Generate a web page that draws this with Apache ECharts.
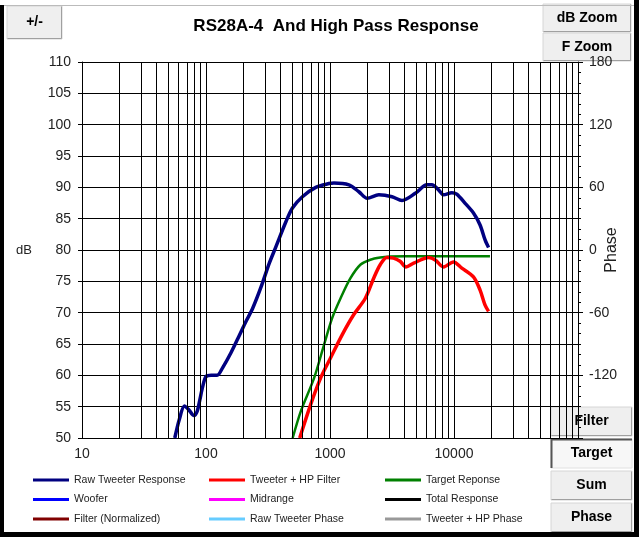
<!DOCTYPE html>
<html><head><meta charset="utf-8">
<script src="https://cdn.jsdelivr.net/npm/echarts@6/dist/echarts.min.js"></script>
<style>html,body{margin:0;padding:0;background:#fff}#c{width:639px;height:537px}</style>
</head><body><div id="c"></div>
<script>
// ---- data ----
const chartTitle = 'RS28A-4  And High Pass Response';
const freqDecades = [10, 100, 1000, 10000];
const freqMin = 10, freqMax = 100000;
const dbMin = 50, dbMax = 110, dbStep = 5;
const phaseMin = -180, phaseMax = 180, phaseStep = 60;

const rawTweeter = [
  [56,50],[61,53],[67,55.1],[72,54.6],[80,53.6],[85,54.3],[89,56],[94,58.2],[100,59.8],
  [110,60],[123,60],[136,61.2],[159,63.6],[186,66.4],[210,68.6],[238,70.7],[278,74.1],
  [324,77.9],[366,80.5],[441,84.5],[498,86.7],[599,88.5],[768,90],[981,90.6],[1077,90.7],
  [1421,90.4],[1710,89.3],[1995,88.25],[2477,88.8],[3165,88.5],[3808,87.9],[4879,89.05],
  [6049,90.4],[6633,90.4],[7510,89.6],[8240,88.8],[9600,89.15],[10520,88.9],[12300,87.45],
  [14350,85.9],[16230,84.0],[17810,81.6],[19000,80.4]
];
const tweeterHP = [
  [570,50],[700,55.4],[841,59.6],[1012,62.8],[1256,66.5],[1556,69.7],[1928,72.3],[2250,75.5],
  [2540,77.65],[2874,78.8],[3252,78.7],[3673,78.2],[4100,77.3],[4730,77.9],[6240,78.8],
  [7060,78.4],[8240,77.3],[9910,78.1],[11560,77.1],[14350,75.7],[16230,73.6],[17810,71.2],[19000,70.2]
];
const targetResp = [
  [500,50],[582,54.3],[745,59.6],[896,64.9],[1044,69.2],[1217,72.3],[1462,75.5],[1757,77.65],
  [2114,78.45],[2540,78.8],[3054,78.95],[4000,79],[10000,79],[19500,79]
];
const legendCol1 = ['Raw Tweeter Response','Woofer','Filter (Normalized)'];
const legendCol2 = ['Tweeter + HP Filter','Midrange','Raw Tweeter Phase'];
const legendCol3 = ['Target Reponse','Total Response','Tweeter + HP Phase'];
const seriesColors = {
  'Raw Tweeter Response':'#000080','Tweeter + HP Filter':'#ff0000','Target Reponse':'#008000',
  'Woofer':'#0000ff','Midrange':'#ff00ff','Total Response':'#000000',
  'Filter (Normalized)':'#800000','Raw Tweeter Phase':'#66ccff','Tweeter + HP Phase':'#999999'
};
const buttonLabels = ['+/-','dB Zoom','F Zoom','Filter','Target','Sum','Phase'];

// ---- build ----
const FONT = 'Liberation Sans, Arial, sans-serif';
const gridFreqs = [];
freqDecades.forEach(d => { for (let k = 1; k <= 9; k++) gridFreqs.push(k * d); });
gridFreqs.push(freqMax);

function button(x, y, w, h, label, pressed) {
  const children = [
    {type:'rect', shape:{x:x, y:y, width:w, height:h}, style:{fill: pressed ? '#f7f7f7' : '#efefef', stroke: pressed ? '#e0e0e0' : '#d6d6d6', lineWidth:1}},
  ];
  if (pressed) {
    children.push({type:'polyline', shape:{points:[[x+0.5,y+h],[x+0.5,y+0.5],[x+w,y+0.5]]}, style:{stroke:'#555', lineWidth:2, fill:null}});
  } else {
    children.push({type:'polyline', shape:{points:[[x+0.5,y+h-0.5],[x+w-0.5,y+h-0.5],[x+w-0.5,y+0.5]]}, style:{stroke:'#a0a0a0', lineWidth:1, fill:null}});
  }
  children.push({type:'text', style:{x:x+w/2, y:y+h/2, text:label, align:'center', verticalAlign:'middle', font:'bold 14px ' + FONT, fill:'#000'}});
  return {type:'group', z:100, children};
}

const lineSeries = [];
lineSeries.push({
  name:'__grid', type:'line', data:[], z:1, silent:true,
  markLine:{silent:true, symbol:['none','none'], label:{show:false}, animation:false,
    lineStyle:{color:'#000', width:1, type:'solid'}, emphasis:{disabled:true},
    data: gridFreqs.map(f => ({xAxis:f}))}
});
['Woofer','Midrange','Total Response','Filter (Normalized)'].forEach(n => {
  lineSeries.push({name:n, type:'line', data:[], color:seriesColors[n]});
});
['Raw Tweeter Phase','Tweeter + HP Phase'].forEach(n => {
  lineSeries.push({name:n, type:'line', data:[], yAxisIndex:1, color:seriesColors[n]});
});
lineSeries.push({name:'Target Reponse', type:'line', data:targetResp, z:3, smooth:0.3, showSymbol:false,
  color:seriesColors['Target Reponse'], lineStyle:{width:2.5}});
lineSeries.push({name:'Tweeter + HP Filter', type:'line', data:tweeterHP, z:4, smooth:0.3, showSymbol:false,
  color:seriesColors['Tweeter + HP Filter'], lineStyle:{width:3.5}});
lineSeries.push({name:'Raw Tweeter Response', type:'line', data:rawTweeter, z:4, smooth:0.3, showSymbol:false,
  color:seriesColors['Raw Tweeter Response'], lineStyle:{width:3.5}});

function legend(names, left) {
  return {data:names, orient:'vertical', left:left, top:474, padding:0, itemWidth:36, itemHeight:3, itemGap:7.5,
    icon:'rect', selectedMode:false, textStyle:{fontSize:10.5, lineHeight:12, color:'#222', fontFamily:FONT}};
}

const option = {
  animation:false,
  backgroundColor:'#fff',
  title:{text:chartTitle, left:331, top:13, textAlign:'center',
    textStyle:{fontSize:17, fontWeight:'bold', color:'#000', fontFamily:FONT}},
  grid:{left:82, right:61, top:62, bottom:99, containLabel:false, outerBoundsMode:'none'},
  legend:[legend(legendCol1, 33), legend(legendCol2, 209), legend(legendCol3, 385)],
  xAxis:{type:'log', logBase:10, min:freqMin, max:freqMax,
    axisLine:{show:true, lineStyle:{color:'#000'}}, axisTick:{show:false},
    splitLine:{show:false},
    axisLabel:{color:'#222', fontSize:14, margin:9, fontFamily:FONT,
      formatter: v => (v >= freqMax ? '' : String(Math.round(v)))}},
  yAxis:[
    {type:'value', min:dbMin, max:dbMax, interval:dbStep, position:'left',
      name:'dB', nameLocation:'middle', nameRotate:0, nameGap:50, nameMoveOverlap:false,
      nameTextStyle:{color:'#222', fontSize:13, fontFamily:FONT},
      axisLine:{show:true, lineStyle:{color:'#000'}},
      axisTick:{show:true, length:4, lineStyle:{color:'#000'}},
      splitLine:{show:true, lineStyle:{color:'#000', width:1}},
      axisLabel:{color:'#222', fontSize:14, margin:11, fontFamily:FONT}},
    {type:'value', min:phaseMin, max:phaseMax, interval:phaseStep, position:'right',
      name:'Phase', nameLocation:'middle', nameRotate:90, nameGap:26, nameMoveOverlap:false,
      nameTextStyle:{color:'#222', fontSize:16, fontFamily:FONT},
      axisLine:{show:true, lineStyle:{color:'#000'}},
      axisTick:{show:true, length:5, lineStyle:{color:'#000'}},
      minorTick:{show:true, splitNumber:6, length:3, lineStyle:{color:'#000'}},
      splitLine:{show:false},
      axisLabel:{color:'#222', fontSize:14, margin:11, fontFamily:FONT,
        formatter: v => (v === phaseMin ? '' : String(v))}}
  ],
  series: lineSeries,
  graphic: [
    {type:'rect', z:100, shape:{x:0, y:5, width:4, height:532}, style:{fill:'#000'}},
    {type:'rect', z:100, shape:{x:0, y:532, width:639, height:5}, style:{fill:'#000'}},
    {type:'rect', z:100, shape:{x:634, y:0, width:5, height:537}, style:{fill:'#000'}},
    {type:'line', z:100, shape:{x1:4, y1:5.5, x2:634, y2:5.5}, style:{stroke:'#bbb', lineWidth:1}},
    button(7, 6, 55, 33, buttonLabels[0], false),
    button(543, 4, 88, 28, buttonLabels[1], false),
    button(543, 33, 88, 28, buttonLabels[2], false),
    button(551, 407, 81, 29, buttonLabels[3], false),
    button(551, 439, 81, 29, buttonLabels[4], true),
    button(551, 471, 81, 29, buttonLabels[5], false),
    button(551, 503, 81, 29, buttonLabels[6], false)
  ]
};
const chart = echarts.init(document.getElementById('c'), null, {renderer:'canvas'});
chart.setOption(option);
</script></body></html>
